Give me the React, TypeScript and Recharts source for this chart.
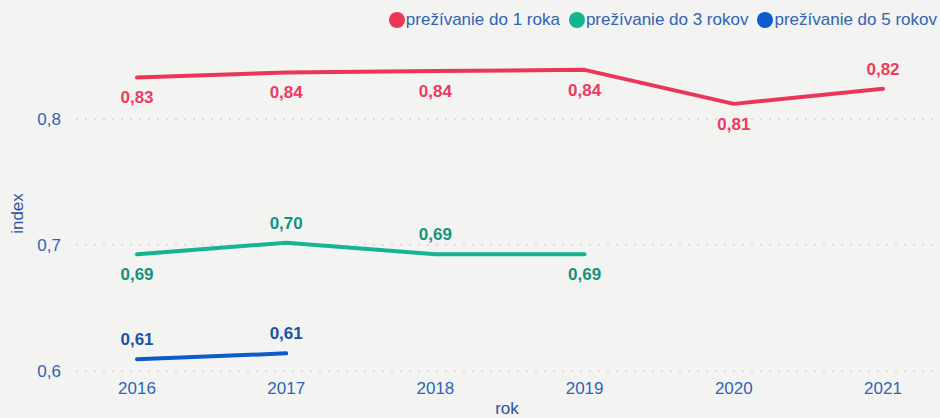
import {
  LineChart,
  Line,
  XAxis,
  YAxis,
  CartesianGrid,
  Legend,
  LabelList,
} from "recharts";

const years = [2016, 2017, 2018, 2019, 2020, 2021];
const survival1 = [0.833, 0.837, 0.838, 0.839, 0.812, 0.824];
const survival3 = [0.6926, 0.7018, 0.6927, 0.6926, null, null];
const survival5 = [0.6093, 0.614, null, null, null, null];
const yTicks = [0.6, 0.7, 0.8];

const series = [
  { key: "y1", name: "prežívanie do 1 roka", color: "#EC3659", labelColor: "#EE3A60" },
  { key: "y3", name: "prežívanie do 3 rokov", color: "#14B591", labelColor: "#15937A" },
  { key: "y5", name: "prežívanie do 5 rokov", color: "#0A5CCB", labelColor: "#1852A6" },
];

// where the value label sits for each point: above or below the line
const labelSide: Record<string, string[]> = {
  y1: ["below", "below", "below", "below", "below", "above"],
  y3: ["below", "above", "above", "below"],
  y5: ["above", "above"],
};

const data = years.map((year, i) => ({
  year,
  y1: survival1[i],
  y3: survival3[i],
  y5: survival5[i],
}));

const FONT = "'Liberation Sans', Arial, sans-serif";
const TICK_COLOR = "#2F64B2";
const TITLE_COLOR = "#2B5499";

const fmt = (v: number) => v.toFixed(2).replace(".", ",");

function makeLabel(key: string, color: string) {
  return (props: any) => {
    const { x, y, value, index } = props;
    if (value == null || y == null) return null;
    const side = labelSide[key][index] ?? "above";
    const cy = side === "above" ? y - 20 : y + 20;
    return (
      <text
        x={x}
        y={cy + 6}
        textAnchor="middle"
        fill={color}
        fontSize={17}
        fontWeight={600}
        fontFamily={FONT}
      >
        {fmt(value)}
      </text>
    );
  };
}

function LegendContent() {
  return (
    <div style={{ display: "flex", alignItems: "center", fontFamily: FONT, fontSize: 17, color: TICK_COLOR }}>
      {series.map((s, i) => (
        <div key={s.key} style={{ display: "flex", alignItems: "center", marginLeft: i === 0 ? 0 : 9 }}>
          <svg width={16} height={16} style={{ marginRight: 1 }}>
            <circle cx={8} cy={8} r={8} fill={s.color} />
          </svg>
          <span>{s.name}</span>
        </div>
      ))}
    </div>
  );
}

export default function App() {
  return (
    <div
      style={{
        position: "fixed",
        left: 0,
        top: 0,
        width: 940,
        height: 418,
        background: "#F3F3F2",
      }}
    >
      <LineChart width={940} height={418} data={data} margin={{ top: 56, right: 2, left: 0, bottom: 0 }}>
        <CartesianGrid
          vertical={false}
          horizontalValues={yTicks}
          stroke="#C4C4C4"
          strokeDasharray="2 7"
        />
        <XAxis
          dataKey="year"
          padding={{ left: 61, right: 55 }}
          height={47}
          axisLine={false}
          tickLine={false}
          tickSize={0}
          tickMargin={11}
          tick={{ fill: TICK_COLOR, fontSize: 17, fontFamily: FONT }}
          label={{ value: "rok", position: "insideBottom", offset: 4, fill: TITLE_COLOR, fontSize: 17, fontFamily: FONT }}
        />
        <YAxis
          width={76}
          domain={[0.6, 0.85]}
          ticks={yTicks}
          allowDataOverflow
          axisLine={false}
          tickLine={false}
          tickSize={0}
          tickMargin={15}
          tickFormatter={(v: number) => String(v).replace(".", ",")}
          tick={{ fill: TICK_COLOR, fontSize: 17, fontFamily: FONT }}
          label={{
            content: (props: any) => {
              const vb = props.viewBox;
              const cx = vb.x + 17;
              const cy = vb.y + vb.height / 2;
              return (
                <text
                  x={cx}
                  y={cy}
                  transform={`rotate(-90, ${cx}, ${cy})`}
                  textAnchor="middle"
                  dominantBaseline="central"
                  fill={TITLE_COLOR}
                  fontSize={17}
                  fontFamily={FONT}
                >
                  index
                </text>
              );
            },
          }}
        />
        <Legend
          layout="vertical"
          verticalAlign="middle"
          align="center"
          wrapperStyle={{ top: 10, right: 3 }}
          content={<LegendContent />}
        />
        {series.map((s) => (
          <Line
            key={s.key}
            type="linear"
            dataKey={s.key}
            name={s.name}
            stroke={s.color}
            strokeWidth={4}
            strokeLinecap="round"
            strokeLinejoin="round"
            dot={false}
            activeDot={false}
            isAnimationActive={false}
          >
            <LabelList dataKey={s.key} content={makeLabel(s.key, s.labelColor)} />
          </Line>
        ))}
      </LineChart>
    </div>
  );
}
